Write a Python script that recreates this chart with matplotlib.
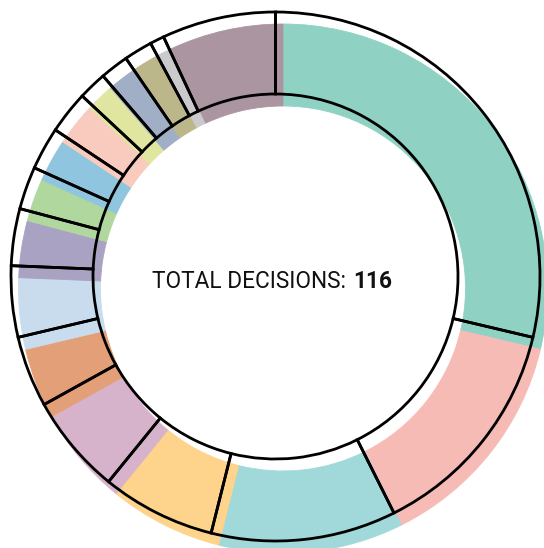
import matplotlib
matplotlib.use("Agg")
import matplotlib.pyplot as plt

# Data (clockwise from 12 o'clock)
categories = ["A", "B", "C", "D", "E", "F", "G", "H", "I", "J", "K", "L", "M", "N", "O", "P"]
values = [33, 16, 13, 8, 7, 5, 5, 4, 3, 3, 3, 2, 2, 2, 1, 8]
colors = ["#8fd2c4", "#f7bbb6", "#a1d9db", "#fed38b", "#d7b3cb", "#e39f78",
          "#c8dcee", "#aaa2c3", "#b0d79d", "#8fc5de", "#f9cbbf", "#e0e69f",
          "#a0aec6", "#bbb78a", "#cacacc", "#ab95a0"]
total_label = "TOTAL DECISIONS: "
total_value = "116"

W, H = 544, 548
fig = plt.figure(figsize=(W / 100, H / 100), dpi=100)
ax = fig.add_axes([0, 0, 1, 1])

R = 264.5
ring = 82.0
cx, cy = 275.5, H - 276.5
dx, dy = 7.5, -12.0

# offset colored fills
fills, _ = ax.pie(values, colors=colors, radius=R, center=(cx + dx, cy + dy),
                  startangle=90, counterclock=False,
                  wedgeprops=dict(width=ring, linewidth=0.6))
for w in fills:
    w.set_edgecolor(w.get_facecolor())

# black outlines
outl, _ = ax.pie(values, colors=colors, radius=R, center=(cx, cy), startangle=90,
                 counterclock=False,
                 wedgeprops=dict(width=ring, linewidth=2.0, edgecolor="black"))
for w in outl:
    w.set_facecolor("none")

ax.set_xlim(0, W)
ax.set_ylim(0, H)
ax.set_aspect("equal")
ax.axis("off")

ax.text(152, H - 288, total_label, fontsize=16.3, family="Roboto", color="#111111",
        ha="left", va="baseline")
ax.text(353, H - 288, total_value, fontsize=16.3, family="Roboto", fontweight="bold",
        color="#111111", ha="left", va="baseline")

fig.savefig("out.png", dpi=100)
